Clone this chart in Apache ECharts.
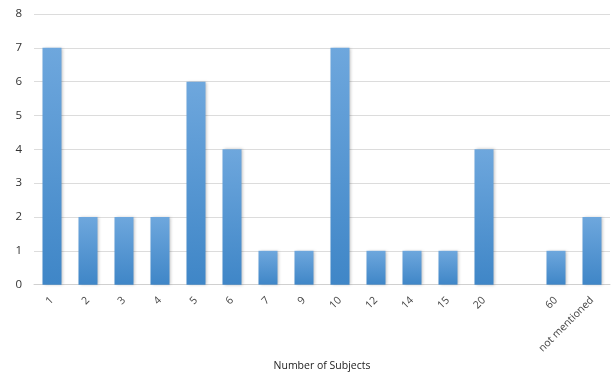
<!DOCTYPE html>
<html>
<head>
<meta charset="utf-8">
<style>
  html, body { margin: 0; padding: 0; background: #fff; }
  #chart { width: 615px; height: 377px; }
</style>
<script src="https://cdn.jsdelivr.net/npm/echarts@6/dist/echarts.min.js"></script>
</head>
<body>
<div id="chart"></div>
<script>
// Number of studies by number of subjects
const categories = ['1', '2', '3', '4', '5', '6', '7', '9', '10', '12', '14', '15', '20', '', '60', 'not mentioned'];
const counts = [7, 2, 2, 2, 6, 4, 1, 1, 7, 1, 1, 1, 4, null, 1, 2];
const yTicks = [0, 1, 2, 3, 4, 5, 6, 7, 8];

const chart = echarts.init(document.getElementById('chart'), null, { renderer: 'canvas' });
chart.setOption({
  animation: false,
  grid: { left: 34, right: 5, top: 14, bottom: 91 },
  xAxis: {
    type: 'category',
    data: categories,
    name: 'Number of Subjects',
    nameLocation: 'middle',
    nameGap: 76,
    nameTextStyle: { fontFamily: 'Open Sans', fontSize: 10.5, color: '#222' },
    axisLine: { lineStyle: { color: '#d0d0d0' } },
    axisTick: { show: false },
    axisLabel: {
      rotate: 45, interval: 0, fontFamily: 'Open Sans', fontSize: 10.5, color: '#444', margin: 14
    }
  },
  yAxis: {
    type: 'value',
    min: yTicks[0],
    max: yTicks[yTicks.length - 1],
    interval: 1,
    axisLine: { show: false },
    axisTick: { show: false },
    splitLine: { lineStyle: { color: '#dcdcdc' } },
    axisLabel: { fontFamily: 'Open Sans', fontSize: 11.5, color: '#333', margin: 12 }
  },
  series: [{
    type: 'bar',
    data: counts,
    barWidth: 19,
    itemStyle: {
      color: new echarts.graphic.LinearGradient(0, 0, 0, 1, [
        { offset: 0, color: '#6ea7dd' },
        { offset: 1, color: '#3f86c7' }
      ]),
      shadowColor: 'rgba(0,0,0,0.25)',
      shadowBlur: 3,
      shadowOffsetX: 1,
      shadowOffsetY: 0
    }
  }]
});
</script>
</body>
</html>
